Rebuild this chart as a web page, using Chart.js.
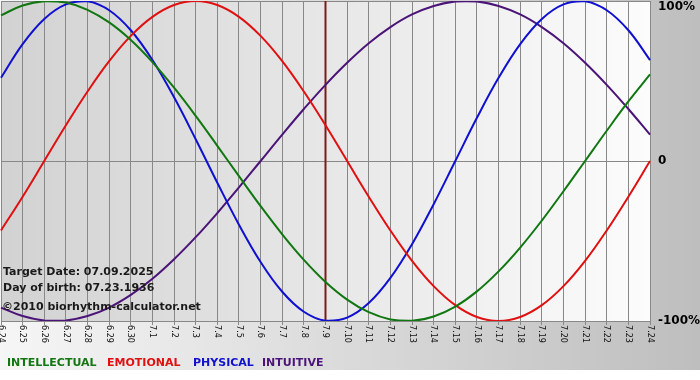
<!DOCTYPE html>
<html>
<head>
<meta charset="utf-8">
<script src="https://cdn.jsdelivr.net/npm/chart.js@4"></script>
<style>
  html, body { margin: 0; padding: 0; background: #fff; }
  canvas { display: block; }
</style>
</head>
<body>
<canvas id="bio" width="700" height="380"></canvas>
<script>
// days shown on the x axis (month.day)
const DATES = ['6.24', '6.25', '6.26', '6.27', '6.28', '6.29', '6.30',
  '7.1', '7.2', '7.3', '7.4', '7.5', '7.6', '7.7', '7.8', '7.9', '7.10',
  '7.11', '7.12', '7.13', '7.14', '7.15', '7.16', '7.17', '7.18', '7.19',
  '7.20', '7.21', '7.22', '7.23', '7.24'];

// values in percent, one per day
const INTELLECTUAL = [91.0, 97.2, 99.9, 99.0, 94.5, 86.6, 75.6, 61.8, 45.8, 28.2, 9.5,
  -9.5, -28.2, -45.8, -61.8, -75.6, -86.6, -94.5, -99.0, -99.9, -97.2,
  -91.0, -81.5, -69.0, -54.1, -37.2, -18.9, 0, 18.9, 37.2, 54.1];
const EMOTIONAL = [-43.4, -22.3, 0, 22.3, 43.4, 62.4, 78.2, 90.1, 97.5, 100, 97.5,
  90.1, 78.2, 62.4, 43.4, 22.3, 0, -22.3, -43.4, -62.4, -78.2,
  -90.1, -97.5, -100, -97.5, -90.1, -78.2, -62.4, -43.4, -22.3, 0];
const PHYSICAL = [52.0, 73.1, 88.8, 97.9, 99.8, 94.2, 81.7, 63.1, 39.8, 13.6, -13.6,
  -39.8, -63.1, -81.7, -94.2, -99.8, -97.9, -88.8, -73.1, -52.0, -27.0,
  0, 27.0, 52.0, 73.1, 88.8, 97.9, 99.8, 94.2, 81.7, 63.1];
const INTUITIVE = [-91.6, -96.9, -99.7, -99.7, -96.9, -91.6, -83.7, -73.6, -61.4, -47.6, -32.5,
  -16.5, 0, 16.5, 32.5, 47.6, 61.4, 73.6, 83.7, 91.6, 96.9,
  99.7, 99.7, 96.9, 91.6, 83.7, 73.6, 61.4, 47.6, 32.5, 16.5];

const Y_TICKS = [{ v: 100, t: '100%' }, { v: 0, t: '0' }, { v: -100, t: '-100%' }];
const TARGET = '7.9';
const INFO = ['Target Date: 07.09.2025', 'Day of birth: 07.23.1936', '\u00a92010 biorhythm-calculator.net'];

const COLORS = {
  intellectual: '#117711',
  emotional: '#e01010',
  physical: '#1010d0',
  intuitive: '#4b1478',
};

const LEGEND = [
  { t: 'INTELLECTUAL', c: COLORS.intellectual, x: 7 },
  { t: 'EMOTIONAL', c: COLORS.emotional, x: 107 },
  { t: 'PHYSICAL', c: COLORS.physical, x: 193 },
  { t: 'INTUITIVE', c: COLORS.intuitive, x: 262 },
];

const decor = {
  id: 'decor',
  beforeDraw(chart) {
    const { ctx, chartArea: a } = chart;
    ctx.save();
    ctx.fillStyle = '#ffffff';
    ctx.fillRect(0, 0, 700, 380);
    let g = ctx.createLinearGradient(0, 0, 700, 0);
    g.addColorStop(0, '#f6f6f6');
    g.addColorStop(1, '#bebebe');
    ctx.fillStyle = g;
    ctx.fillRect(0, 0, 700, 370);
    g = ctx.createLinearGradient(a.left, 0, a.right, 0);
    g.addColorStop(0, '#d2d2d2');
    g.addColorStop(1, '#fcfcfc');
    ctx.fillStyle = g;
    ctx.fillRect(a.left, a.top, a.right - a.left, a.bottom - a.top);
    ctx.restore();
  },
  beforeDatasetsDraw(chart) {
    const { ctx, chartArea: a, scales: { x } } = chart;
    const px = x.getPixelForValue(DATES.indexOf(TARGET));
    ctx.save();
    ctx.strokeStyle = '#7a1c1c';
    ctx.lineWidth = 2;
    ctx.beginPath();
    ctx.moveTo(px, a.top);
    ctx.lineTo(px, a.bottom);
    ctx.stroke();
    ctx.restore();
  },
  afterDraw(chart) {
    const { ctx, chartArea: a, scales: { x, y } } = chart;
    ctx.save();
    // x labels, turned to read top to bottom
    ctx.fillStyle = '#111';
    ctx.font = '9px "DejaVu Sans Condensed", "DejaVu Sans", sans-serif';
    ctx.textAlign = 'left';
    ctx.textBaseline = 'middle';
    DATES.forEach((d, i) => {
      ctx.save();
      ctx.translate(x.getPixelForTick(i), a.bottom + 4);
      ctx.rotate(Math.PI / 2);
      ctx.fillText(d, 0, 0);
      ctx.restore();
    });
    // y labels on the right
    ctx.font = 'bold 12px "DejaVu Sans", sans-serif';
    ctx.fillStyle = '#000';
    Y_TICKS.forEach(tk => {
      const py = Math.max(7, y.getPixelForValue(tk.v));
      ctx.fillText(tk.t, a.right + 8, py);
    });
    // info text
    ctx.font = 'bold 11px "DejaVu Sans", sans-serif';
    ctx.fillStyle = '#1a1a1a';
    ctx.textBaseline = 'alphabetic';
    ctx.fillText(INFO[0], 3, 275);
    ctx.fillText(INFO[1], 3, 291);
    ctx.fillText(INFO[2], 2, 310);
    // legend
    LEGEND.forEach(l => {
      ctx.fillStyle = l.c;
      ctx.fillText(l.t, l.x, 366);
    });
    ctx.restore();
  },
};

const line = (label, data, color) => ({
  label, data, borderColor: color, backgroundColor: 'transparent',
  borderWidth: 2, pointRadius: 0, tension: 0.4, fill: false,
});

new Chart(document.getElementById('bio'), {
  type: 'line',
  data: {
    labels: DATES,
    datasets: [
      line('INTELLECTUAL', INTELLECTUAL, COLORS.intellectual),
      line('EMOTIONAL', EMOTIONAL, COLORS.emotional),
      line('PHYSICAL', PHYSICAL, COLORS.physical),
      line('INTUITIVE', INTUITIVE, COLORS.intuitive),
    ],
  },
  options: {
    responsive: false,
    animation: false,
    layout: { padding: { left: 1, right: 50, top: 1, bottom: 55 } },
    plugins: { legend: { display: false }, tooltip: { enabled: false } },
    scales: {
      x: {
        grid: { color: '#888', lineWidth: 1, drawTicks: true, tickLength: 4, tickColor: '#888' },
        border: { color: '#888' },
        ticks: { display: false },
      },
      y: {
        min: -100,
        max: 100,
        grid: { color: '#888', lineWidth: 1, drawTicks: false },
        border: { color: '#888' },
        ticks: { display: false, stepSize: 100 },
      },
    },
  },
  plugins: [decor],
});
</script>
</body>
</html>
